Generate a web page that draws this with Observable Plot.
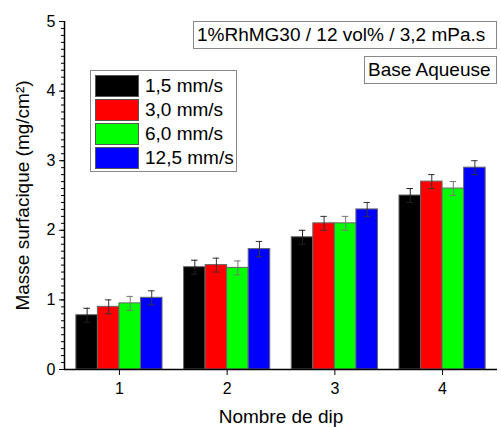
<!DOCTYPE html>
<html><head><meta charset="utf-8">
<script src="https://cdn.jsdelivr.net/npm/d3@7"></script>
<script src="https://cdn.jsdelivr.net/npm/@observablehq/plot@0.6"></script>
<style>
body{margin:0;background:#fff;}
#wrap{position:relative;width:501px;height:427px;font-family:"Liberation Sans",Arial,sans-serif;}
#wrap svg{position:absolute;left:0;top:0;}
.box{position:absolute;border:1px solid #888;background:#fff;font-size:19px;line-height:25px;color:#000;white-space:nowrap;box-sizing:border-box;}
.sw{position:absolute;width:44px;height:22px;box-sizing:border-box;border:1px solid #555;}
.lt{position:absolute;font-size:19px;line-height:22px;white-space:nowrap;}
</style>
</head><body>
<div id="wrap"></div>
<script>
const dips = [1, 2, 3, 4];
const speeds = ["1,5 mm/s", "3,0 mm/s", "6,0 mm/s", "12,5 mm/s"];
const colors = ["#000000", "#ff0000", "#00ff00", "#0000ff"];
const errColors = ["#222222", "#333333", "#777777", "#333333"];
const v15 = [0.78, 1.47, 1.90, 2.50];
const v30 = [0.90, 1.50, 2.10, 2.70];
const v60 = [0.95, 1.46, 2.10, 2.60];
const v125 = [1.03, 1.73, 2.30, 2.90];
const e15 = [0.10, 0.10, 0.10, 0.10];
const e30 = [0.10, 0.10, 0.10, 0.10];
const e60 = [0.10, 0.10, 0.10, 0.10];
const e125 = [0.10, 0.11, 0.10, 0.10];
const yTicks = [0, 1, 2, 3, 4, 5];
const xTicks = [1, 2, 3, 4];
const title1 = "1%RhMG30 / 12 vol% / 3,2 mPa.s";
const title2 = "Base Aqueuse";
const xLabel = "Nombre de dip";
const yLabel = "Masse surfacique (mg/cm²)";

const series = [v15, v30, v60, v125];
const errs = [e15, e30, e60, e125];
const bw = 0.2;
const rows = dips.flatMap((dip, i) => speeds.map((s, j) => ({
  dip, speed: s, j, v: series[j][i], e: errs[j][i],
  x1: dip - 2 * bw + j * bw, x2: dip - 2 * bw + (j + 1) * bw,
  xc: dip - 2 * bw + (j + 0.5) * bw
})));
const cap = 0.03;

const chart = Plot.plot({
  width: 501, height: 427,
  marginLeft: 64, marginRight: 4, marginTop: 21, marginBottom: 58,
  style: {fontFamily: "'Liberation Sans', Arial, sans-serif", fontSize: "16px", color: "#000", background: "transparent", overflow: "visible"},
  x: {domain: [0.49, 4.51]},
  y: {domain: [0, 5]},
  marks: [
    Plot.rectY(rows, {x1: "x1", x2: "x2", y1: 0, y2: "v", fill: d => colors[d.j], stroke: "#666", strokeWidth: 1}),
    Plot.ruleX(rows, {x: "xc", y1: d => d.v - d.e, y2: d => d.v + d.e, stroke: d => errColors[d.j], strokeWidth: 1}),
    Plot.ruleY(rows, {x1: d => d.xc - cap, x2: d => d.xc + cap, y: d => d.v + d.e, stroke: d => errColors[d.j], strokeWidth: 1}),
    Plot.ruleY(rows, {x1: d => d.xc - cap, x2: d => d.xc + cap, y: d => d.v - d.e, stroke: d => errColors[d.j], strokeWidth: 1}),
    Plot.ruleY([0], {stroke: "#000", strokeWidth: 1.5}),
    Plot.ruleX([0.49], {y1: 0, y2: 5, stroke: "#000", strokeWidth: 1.5}),
    Plot.axisY({ticks: d3.range(0, 50.5, 1).map(k => k / 10), tickSize: 3, text: null, label: null}),
    Plot.axisY({ticks: yTicks, tickSize: 5, tickPadding: 4, tickFormat: d => String(d), label: null, fontSize: 16}),
    Plot.axisX({ticks: xTicks, tickSize: 6, tickPadding: 7, tickFormat: d => String(d), label: null, fontSize: 16}),
    Plot.text([xLabel], {frameAnchor: "bottom", dy: 53, lineAnchor: "bottom", textAnchor: "middle", fontSize: 19}),
    Plot.text([yLabel], {frameAnchor: "left", dx: -42, rotate: -90, lineAnchor: "middle", textAnchor: "middle", fontSize: 19})
  ]
});
const wrap = document.getElementById("wrap");
wrap.appendChild(chart);

function addBox(text, left, top, width, height) {
  const b = document.createElement("div");
  b.className = "box";
  Object.assign(b.style, {left: left + "px", top: top + "px", width: width + "px", height: height + "px", paddingLeft: "3px"});
  b.textContent = text;
  wrap.appendChild(b);
}
addBox(title1, 193, 21, 304, 28);
addBox(title2, 364, 56, 133, 28);

const leg = document.createElement("div");
leg.className = "box";
Object.assign(leg.style, {left: "90px", top: "70px", width: "147px", height: "102px"});
wrap.appendChild(leg);
const rowTops = [3.5, 27.5, 51.5, 76];
speeds.forEach((s, j) => {
  const sw = document.createElement("div");
  sw.className = "sw";
  Object.assign(sw.style, {left: "3.5px", top: rowTops[j] + "px", background: colors[j]});
  leg.appendChild(sw);
  const t = document.createElement("div");
  t.className = "lt";
  Object.assign(t.style, {left: "54px", top: rowTops[j] + "px"});
  t.textContent = s;
  leg.appendChild(t);
});
</script>
</body></html>
